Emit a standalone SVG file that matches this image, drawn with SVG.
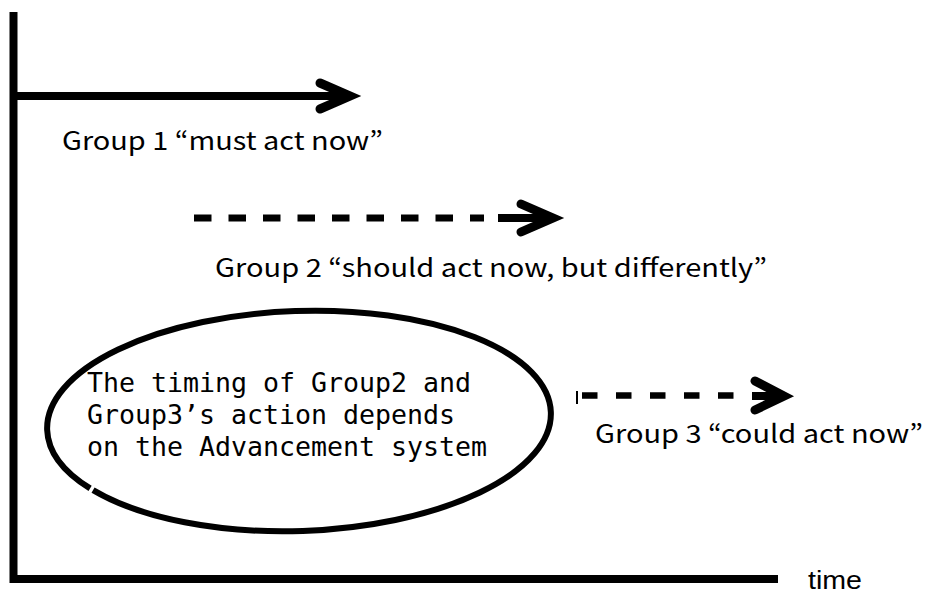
<svg xmlns="http://www.w3.org/2000/svg" width="926" height="594" viewBox="0 0 926 594">
<style>
.axis{stroke:#000;stroke-width:8;fill:none;stroke-linecap:butt}
.shaft{stroke:#000;stroke-width:8;fill:none}
.dash2{stroke:#000;stroke-width:7;fill:none;stroke-dasharray:17.5 17}
.dash3{stroke:#000;stroke-width:6.5;fill:none;stroke-dasharray:15.5 18.5}
.head{stroke:#000;stroke-width:9;fill:none;stroke-linecap:round;stroke-linejoin:miter;stroke-miterlimit:6}
.lbl{font-family:"Noto Sans CJK JP","Liberation Sans",sans-serif;font-size:25px;fill:#000}
.mono{font-family:"DejaVu Sans Mono","Liberation Mono",monospace;font-size:27.4px;fill:#000}
</style>
<rect width="926" height="594" fill="#fff"/>
<g id="axes">
<line class="axis" x1="13.5" y1="12" x2="13.5" y2="583"/>
<line class="axis" x1="10" y1="579" x2="778" y2="579"/>
<text id="time-label" x="808" y="589" font-family="Liberation Sans, sans-serif" font-size="26" textLength="54" lengthAdjust="spacingAndGlyphs">time</text>
</g>
<g id="connectors">
<g id="arrow-group1">
<line class="shaft" x1="13" y1="96" x2="346" y2="96"/>
<polyline class="head" points="320,83 350,96 320,109"/>
</g>
<g id="arrow-group2">
<line class="dash2" x1="194" y1="218" x2="484" y2="218"/>
<line class="shaft" x1="498" y1="218" x2="549" y2="218"/>
<polyline class="head" points="521,204 553,218 521,232"/>
</g>
<g id="arrow-group3">
<line stroke="#000" stroke-width="2" x1="577" y1="391" x2="577" y2="404"/>
<line class="dash3" x1="582" y1="395.5" x2="736" y2="395.5"/>
<line class="shaft" x1="752" y1="396" x2="780" y2="396"/>
<polyline class="head" points="755,381 784,396 755,410"/>
</g>
</g>
<g id="node-group1">
<text class="lbl" x="62" y="150" textLength="321" lengthAdjust="spacingAndGlyphs">Group 1 “must act now”</text>
</g>
<g id="node-group2">
<text class="lbl" x="215" y="277" textLength="552" lengthAdjust="spacingAndGlyphs">Group 2 “should act now, but differently”</text>
</g>
<g id="node-group3">
<text class="lbl" x="595" y="443" textLength="328" lengthAdjust="spacingAndGlyphs">Group 3 “could act now”</text>
</g>
<g id="node-ellipse">
<ellipse cx="299" cy="421" rx="252" ry="110" transform="rotate(-2 299 421)" fill="none" stroke="#000" stroke-width="6" pathLength="1000" stroke-dasharray="433 3 564 0"/>
<text class="mono" x="87" y="392" textLength="384" lengthAdjust="spacingAndGlyphs">The timing of Group2 and</text>
<text class="mono" x="87" y="424" textLength="368" lengthAdjust="spacingAndGlyphs">Group3’s action depends</text>
<text class="mono" x="87" y="456" textLength="400" lengthAdjust="spacingAndGlyphs">on the Advancement system</text>
</g>
</svg>
